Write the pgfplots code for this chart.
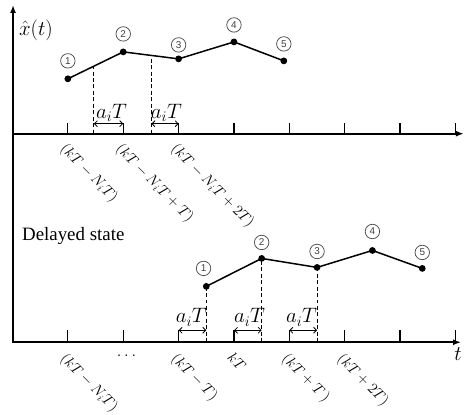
\documentclass[border=0pt]{standalone}
\usepackage{fontspec}
\setmainfont{Liberation Serif}
\setsansfont{Liberation Sans}
\usepackage{fix-cm}
\usepackage{pgfplots}
\pgfplotsset{compat=1.18}
\usetikzlibrary{arrows.meta}
\newcommand\cn[2]{\node[circle,draw=black!70,line width=0.75pt,inner sep=0pt,minimum size=14.5bp,font=\sffamily\fontsize{10}{10}\selectfont,text=black!75] at (axis cs:#1) {#2};}
\newcommand\tl[2]{\node[rotate=-45,anchor=north west,inner sep=0pt,font=\fontsize{15}{15}\selectfont] at (axis cs:#1) {$#2$};}
\newcommand\al[1]{\node[font=\fontsize{21}{21}\selectfont] at (axis cs:#1) {$a_iT$};}
\begin{document}
\begin{tikzpicture}
\begin{axis}[
 width=465bp, height=406bp, scale only axis,
 xmin=-1.2252, xmax=7.1532, ymin=0, ymax=406,
 hide axis, clip=false, unbounded coords=jump,
]
\path (axis cs:-1.2252,0) rectangle (axis cs:7.1532,406);
% axes
\addplot[black, line width=1.6pt, -{Latex[length=8pt,width=6pt]}] coordinates {(-0.99,62.2) (-0.99,401)};
\addplot[black, line width=1.6pt, -{Latex[length=8pt,width=6pt]}] coordinates {(-0.99,272) (7.15,272)};
\addplot[black, line width=1.6pt, -{Latex[length=8pt,width=6pt]}] coordinates {(-0.99,63) (7.10,63)};
% ticks
\addplot[black, line width=1.3pt] coordinates {(0,272)(0,283)(0,nan)(1,272)(1,283)(1,nan)(2,272)(2,283)(2,nan)(3,272)(3,283)(3,nan)(4,272)(4,283)(4,nan)(5,272)(5,283)(5,nan)(6,272)(6,283)(6,nan)(7,272)(7,283)};
\addplot[black, line width=1.3pt] coordinates {(0,63)(0,75)(0,nan)(1,63)(1,75)(1,nan)(2,63)(2,75)(2,nan)(3,63)(3,75)(3,nan)(4,63)(4,75)(4,nan)(5,63)(5,75)(5,nan)(6,63)(6,75)(6,nan)(7,63)(7,75)};
% dashed lines
\addplot[black, line width=0.9pt, dash pattern=on 4pt off 2.5pt] coordinates {(0.47,272)(0.47,339.7)(0.47,nan)(1.51,272)(1.51,350.4)};
\addplot[black, line width=0.9pt, dash pattern=on 4pt off 2.5pt] coordinates {(2.5,63)(2.5,119)(2.5,nan)(3.5,63)(3.5,147)(3.5,nan)(4.5,63)(4.5,138)};
% double arrows
\addplot[black, line width=0.8pt, {Straight Barb[length=3pt,width=6pt]}-{Straight Barb[length=3pt,width=6pt]}] coordinates {(0.47,282)(1,282)};
\addplot[black, line width=0.8pt, {Straight Barb[length=3pt,width=6pt]}-{Straight Barb[length=3pt,width=6pt]}] coordinates {(1.51,282)(2,282)};
\addplot[black, line width=0.8pt, {Straight Barb[length=3pt,width=6pt]}-{Straight Barb[length=3pt,width=6pt]}] coordinates {(2,75)(2.5,75)};
\addplot[black, line width=0.8pt, {Straight Barb[length=3pt,width=6pt]}-{Straight Barb[length=3pt,width=6pt]}] coordinates {(3,75)(3.5,75)};
\addplot[black, line width=0.8pt, {Straight Barb[length=3pt,width=6pt]}-{Straight Barb[length=3pt,width=6pt]}] coordinates {(4,75)(4.5,75)};
% state polylines
\addplot[black, line width=1.5pt, mark=*, mark size=2.6pt] coordinates {(0,327)(1,354)(2,347)(3,364)(3.9,345)};
\addplot[black, line width=1.5pt, mark=*, mark size=2.6pt] coordinates {(2.5,119)(3.5,147)(4.5,138)(5.5,155)(6.4,137)};
% circled numbers
\cn{0,345}{1}\cn{1,372}{2}\cn{2,361}{3}\cn{3,381}{4}\cn{3.9,362}{5}
\cn{2.45,137}{1}\cn{3.5,163}{2}\cn{4.5,154}{3}\cn{5.5,174}{4}\cn{6.4,153}{5}
% a_i T labels
\al{0.79,293}\al{1.78,293}
\al{2.23,88}\al{3.28,88}\al{4.22,88}
% tick labels
\tl{0,264}{(kT-N_iT)}
\tl{1,264}{(kT-N_iT+T)}
\tl{2,264}{(kT-N_iT+2T)}
\tl{0,54}{(kT-N_iT)}
\tl{2,54}{(kT-T)}
\tl{3,54}{kT}
\tl{4,54}{(kT+T\,)}
\tl{5,54}{(kT+2T)}
\node[font=\fontsize{17}{17}\selectfont] at (axis cs:1.06,50) {$\dots$};
% other text
\node[font=\fontsize{21}{21}\selectfont] at (axis cs:7.045,51) {$t$};
\node[font=\fontsize{21}{21}\selectfont] at (axis cs:-0.577,376) {$\hat{x}(t)$};
\node[anchor=west,inner sep=0pt,font=\fontsize{19}{19}\selectfont] at (axis cs:-0.829,169) {Delayed state};
\end{axis}
\end{tikzpicture}
\end{document}
